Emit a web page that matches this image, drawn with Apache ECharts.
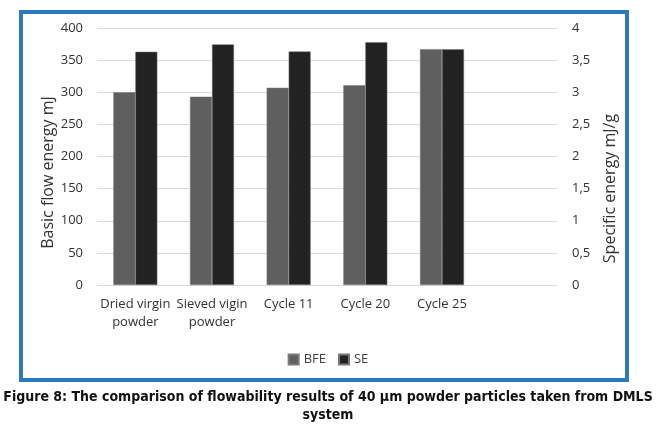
<!DOCTYPE html>
<html>
<head>
<meta charset="utf-8">
<script src="https://cdn.jsdelivr.net/npm/echarts@6/dist/echarts.min.js"></script>
<style>html,body{margin:0;padding:0;background:#fff}#c{width:656px;height:428px}</style>
</head>
<body>
<div id="c"></div>
<script>
const categories = ['Dried virgin\npowder', 'Sieved vigin\npowder', 'Cycle 11', 'Cycle 20', 'Cycle 25', ''];
const bfe = [300, 293, 307, 311, 367, null];
const se = [3.63, 3.745, 3.635, 3.78, 3.67, null];
const leftTicks = [0, 50, 100, 150, 200, 250, 300, 350, 400];
const rightTicks = [0, 0.5, 1, 1.5, 2, 2.5, 3, 3.5, 4];

const chart = echarts.init(document.getElementById('c'), null, {renderer: 'canvas'});
const font = 'Open Sans';
chart.setOption({
  animation: false,
  backgroundColor: '#fff',
  textStyle: {fontFamily: font},
  graphic: [{
    type: 'rect', shape: {x: 21, y: 12, width: 606, height: 368},
    style: {fill: 'none', stroke: '#2b7bb9', lineWidth: 4}, z: 100
  }],
  title: {
    text: 'Figure 8: The comparison of flowability results of 40 µm powder particles taken from DMLS\nsystem',
    left: 'center', top: 383,
    textStyle: {fontFamily: 'DejaVu Sans Condensed', fontWeight: 'bold', fontSize: 14, color: '#111', lineHeight: 18}
  },
  legend: {
    data: ['BFE', 'SE'], top: 348, left: 'center', itemWidth: 10, itemHeight: 10, itemGap: 12,
    icon: 'rect',
    textStyle: {fontFamily: font, fontSize: 13, color: '#404040'}
  },
  grid: {left: 97, right: 99, top: 28, bottom: 143},
  xAxis: {
    type: 'category', data: categories,
    axisLine: {show: false}, axisTick: {show: false},
    axisLabel: {interval: 0, fontFamily: font, fontSize: 13, color: '#333', lineHeight: 18, margin: 10}
  },
  yAxis: [{
    type: 'value', min: 0, max: 400, interval: 50,
    name: 'Basic flow energy mJ', nameLocation: 'middle', nameGap: 41, nameRotate: 90, nameMoveOverlap: false,
    nameTextStyle: {fontFamily: font, fontSize: 16, color: '#333', padding: [0, 32, 0, 0]},
    axisLine: {show: false}, axisTick: {show: false},
    axisLabel: {fontFamily: font, fontSize: 13, color: '#333', margin: 14},
    splitLine: {lineStyle: {color: '#d9d9d9'}}
  }, {
    type: 'value', min: 0, max: 4, interval: 0.5, position: 'right',
    name: 'Specific energy mJ/g', nameLocation: 'middle', nameGap: 45, nameRotate: 90, nameMoveOverlap: false,
    nameTextStyle: {fontFamily: font, fontSize: 16, color: '#333', padding: [0, 64, 0, 0]},
    axisLine: {show: false}, axisTick: {show: false},
    axisLabel: {fontFamily: font, fontSize: 13, color: '#333', margin: 15,
      formatter: v => String(v).replace('.', ',')},
    splitLine: {show: false}
  }],
  series: [{
    name: 'BFE', type: 'bar', data: bfe, yAxisIndex: 0, barWidth: 22, barGap: '0%',
    itemStyle: {color: '#5f5f5f', borderColor: '#7a7a7a', borderWidth: 0.5}
  }, {
    name: 'SE', type: 'bar', data: se, yAxisIndex: 1, barWidth: 22, barGap: '0%',
    itemStyle: {color: '#222222', borderColor: '#7a7a7a', borderWidth: 0.5}
  }]
});
</script>
</body>
</html>
